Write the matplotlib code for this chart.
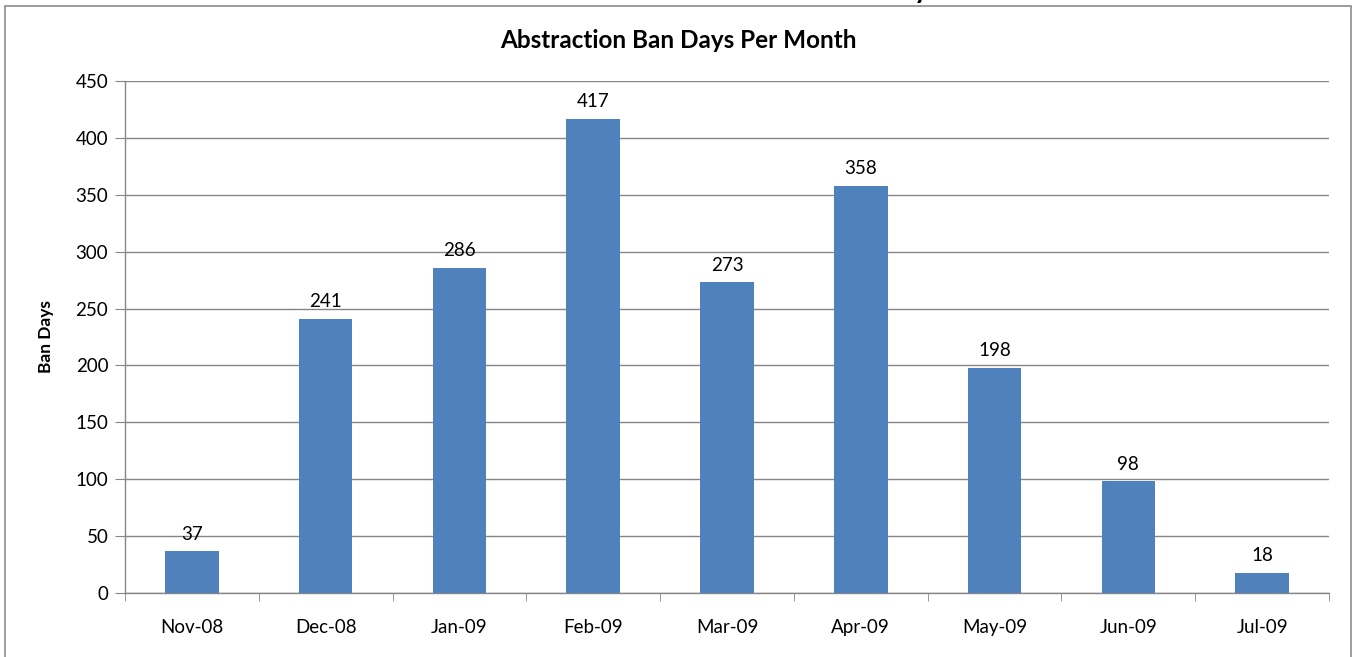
import matplotlib
matplotlib.use("Agg")
import matplotlib.pyplot as plt
from matplotlib.patches import Rectangle
import numpy as np

months = ["Nov-08", "Dec-08", "Jan-09", "Feb-09", "Mar-09", "Apr-09", "May-09", "Jun-09", "Jul-09"]
ban_days = [37, 241, 286, 417, 273, 358, 198, 98, 18]
y_ticks = [0, 50, 100, 150, 200, 250, 300, 350, 400, 450]

plt.rcParams['font.family'] = ['Lato', 'DejaVu Sans']

W, H = 1360, 657
fig = plt.figure(figsize=(W/100, H/100), dpi=100)
ax = fig.add_axes([125/W, 1-593/H, (1329-125)/W, (593-81)/H])

grey = '#868686'
x = np.arange(len(months))
ax.bar(x, ban_days, width=0.4, color='#4F81BD', zorder=3)
for xi, v in zip(x, ban_days):
    ax.annotate(str(v), (xi, v), xytext=(0, 6), textcoords='offset points',
                ha='center', va='bottom', fontsize=13.5)

ax.set_xlim(-0.5, len(months)-0.5)
ax.set_ylim(0, 450)
ax.set_yticks(y_ticks)
ax.set_yticklabels([str(t) for t in y_ticks], fontsize=13.5)
ax.yaxis.grid(True, color=grey, linewidth=1, zorder=0)
ax.set_axisbelow(True)

ax.set_xticks(x)
ax.set_xticklabels(months, fontsize=13.5)
ax.set_xticks(np.arange(-0.5, len(months), 1.0), minor=True)
ax.tick_params(axis='x', which='major', length=0, pad=19)
ax.tick_params(axis='x', which='minor', length=6, direction='out', color=grey)
ax.tick_params(axis='y', length=7, direction='out', color=grey, pad=5)

for s in ['top', 'right']:
    ax.spines[s].set_visible(False)
for s in ['left', 'bottom']:
    ax.spines[s].set_color(grey)
    ax.spines[s].set_linewidth(1)

ax.set_ylabel("Ban Days", fontsize=12.5, fontweight='bold')
ax.yaxis.set_label_coords(-71/(1329-125), 0.5)

fig.text(678/W, 1-40/H, "Abstraction Ban Days Per Month", ha='center', va='center',
         fontsize=17.5, fontweight='bold')

# outer chart border
fig.patches.append(Rectangle((5/W, -0.02), (1351-5)/W, (1-6/H)+0.02, transform=fig.transFigure,
                             fill=False, edgecolor='#8c8c8c', linewidth=1.2))
# clipped glyph of a larger heading above the frame (cut off in the reference too)
fig.text(921/W, 1-(-10)/H, "y", ha='center', va='center', fontsize=20, fontweight='bold')

fig.savefig("out.png", dpi=100)
